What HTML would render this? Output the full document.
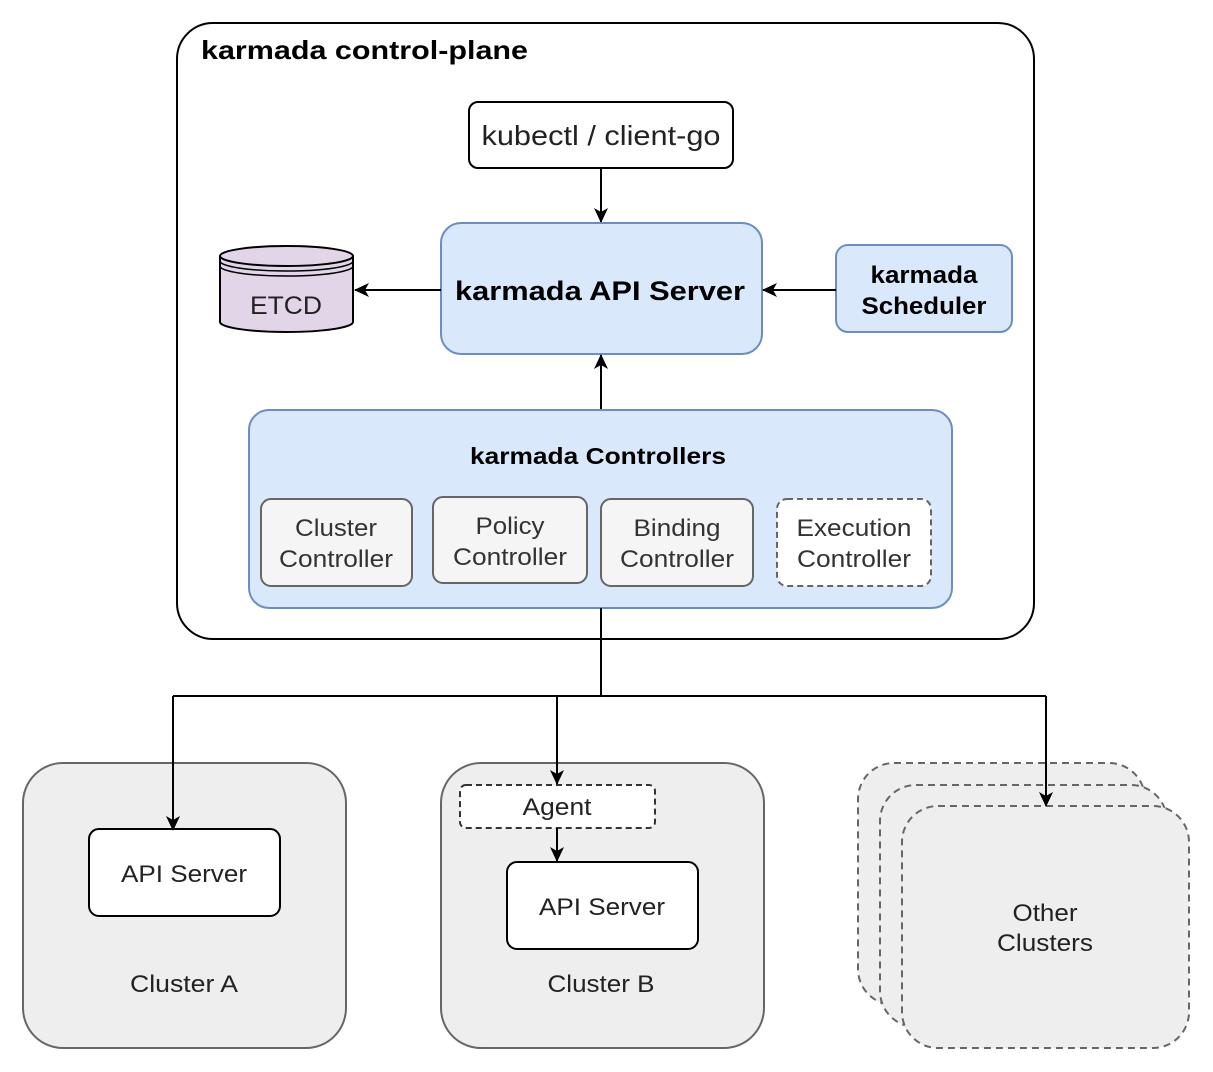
<!DOCTYPE html>
<html><head><meta charset="utf-8"><style>body{margin:0;background:#fff}svg{display:block}text{font-family:"Liberation Sans",sans-serif}</style></head><body>
<svg width="1213" height="1072" viewBox="0 0 1213 1072" xmlns="http://www.w3.org/2000/svg">
<defs><marker id="a" markerWidth="16" markerHeight="16" refX="14" refY="7" orient="auto" markerUnits="userSpaceOnUse" viewBox="0 0 16 14"><path d="M0,0 L15,7 L0,14 L4,7 z" fill="#000"/></marker></defs>
<rect x="177" y="23" width="857" height="616" rx="36" fill="#fff" stroke="#000" stroke-width="2"/>
<text x="201" y="59" font-size="26" font-weight="bold" textLength="327" lengthAdjust="spacingAndGlyphs">karmada control-plane</text>
<rect x="469" y="102" width="264" height="66" rx="9" fill="#fff" stroke="#000" stroke-width="2"/>
<text x="601" y="145" font-size="28" text-anchor="middle" fill="#222" textLength="239" lengthAdjust="spacingAndGlyphs">kubectl / client-go</text>
<line x1="601" y1="168" x2="601" y2="222" stroke="#000" stroke-width="2" marker-end="url(#a)"/>
<rect x="441" y="223" width="321" height="131" rx="20" fill="#dae8fc" stroke="#6c8ebf" stroke-width="2"/>
<text x="600" y="300" font-size="27" font-weight="bold" text-anchor="middle" textLength="290" lengthAdjust="spacingAndGlyphs">karmada API Server</text>
<path d="M220,256 L220,322 A66.5,10 0 0 0 353,322 L353,256" fill="#e1d5e7" stroke="#000" stroke-width="2"/>
<ellipse cx="286.5" cy="256" rx="66.5" ry="10" fill="#e1d5e7" stroke="#000" stroke-width="2"/>
<path d="M220,261 A66.5,10 0 0 0 353,261 M220,266 A66.5,10 0 0 0 353,266" fill="none" stroke="#000" stroke-width="1.5"/>
<text x="286" y="314" font-size="25" text-anchor="middle" fill="#222" textLength="72" lengthAdjust="spacingAndGlyphs">ETCD</text>
<line x1="441" y1="290" x2="355" y2="290" stroke="#000" stroke-width="2" marker-end="url(#a)"/>
<rect x="836" y="245" width="176" height="87" rx="12" fill="#dae8fc" stroke="#6c8ebf" stroke-width="2"/>
<text x="924" y="283" font-size="24" font-weight="bold" text-anchor="middle" textLength="107" lengthAdjust="spacingAndGlyphs">karmada</text>
<text x="924" y="314" font-size="24" font-weight="bold" text-anchor="middle" textLength="125" lengthAdjust="spacingAndGlyphs">Scheduler</text>
<line x1="836" y1="290" x2="763" y2="290" stroke="#000" stroke-width="2" marker-end="url(#a)"/>
<line x1="601" y1="410" x2="601" y2="355" stroke="#000" stroke-width="2" marker-end="url(#a)"/>
<rect x="249" y="410" width="703" height="198" rx="20" fill="#dae8fc" stroke="#6c8ebf" stroke-width="2"/>
<text x="598" y="464" font-size="23" font-weight="bold" text-anchor="middle" textLength="256" lengthAdjust="spacingAndGlyphs">karmada Controllers</text>
<g font-size="24" fill="#333" text-anchor="middle" lengthAdjust="spacingAndGlyphs">
<rect x="261" y="499" width="151" height="87" rx="10" fill="#f5f5f5" stroke="#666" stroke-width="2"/>
<text x="336" y="536" textLength="82" lengthAdjust="spacingAndGlyphs">Cluster</text><text x="336" y="567" textLength="114" lengthAdjust="spacingAndGlyphs">Controller</text>
<rect x="433" y="497" width="154" height="86" rx="10" fill="#f5f5f5" stroke="#666" stroke-width="2"/>
<text x="510" y="534" textLength="69" lengthAdjust="spacingAndGlyphs">Policy</text><text x="510" y="565" textLength="114" lengthAdjust="spacingAndGlyphs">Controller</text>
<rect x="601" y="499" width="152" height="87" rx="10" fill="#f5f5f5" stroke="#666" stroke-width="2"/>
<text x="677" y="536" textLength="87" lengthAdjust="spacingAndGlyphs">Binding</text><text x="677" y="567" textLength="114" lengthAdjust="spacingAndGlyphs">Controller</text>
<rect x="777" y="499" width="154" height="87" rx="10" fill="#fff" stroke="#666" stroke-width="2" stroke-dasharray="6,4"/>
<text x="854" y="536" textLength="115" lengthAdjust="spacingAndGlyphs">Execution</text><text x="854" y="567" textLength="114" lengthAdjust="spacingAndGlyphs">Controller</text>
</g>
<path d="M601,608 V696 M173,696 H1046" stroke="#000" stroke-width="2" fill="none"/>
<rect x="23" y="763" width="323" height="285" rx="40" fill="#eee" stroke="#666" stroke-width="2"/>
<rect x="89" y="829" width="191" height="87" rx="10" fill="#fff" stroke="#000" stroke-width="2"/>
<text x="184" y="882" font-size="24" text-anchor="middle" fill="#222" textLength="126" lengthAdjust="spacingAndGlyphs">API Server</text>
<text x="184" y="992" font-size="24" text-anchor="middle" fill="#222" textLength="108" lengthAdjust="spacingAndGlyphs">Cluster A</text>
<rect x="441" y="763" width="323" height="285" rx="40" fill="#eee" stroke="#666" stroke-width="2"/>
<rect x="460" y="785" width="195" height="43" rx="6" fill="#fff" stroke="#333" stroke-width="2" stroke-dasharray="6,4"/>
<text x="557" y="815" font-size="24" text-anchor="middle" fill="#222" textLength="69" lengthAdjust="spacingAndGlyphs">Agent</text>
<rect x="507" y="862" width="191" height="87" rx="10" fill="#fff" stroke="#000" stroke-width="2"/>
<text x="602" y="915" font-size="24" text-anchor="middle" fill="#222" textLength="126" lengthAdjust="spacingAndGlyphs">API Server</text>
<text x="601" y="992" font-size="24" text-anchor="middle" fill="#222" textLength="107" lengthAdjust="spacingAndGlyphs">Cluster B</text>
<line x1="557" y1="828" x2="557" y2="861" stroke="#000" stroke-width="2" marker-end="url(#a)"/>
<g fill="#eee" stroke="#666" stroke-width="2" stroke-dasharray="7,5">
<rect x="858" y="763" width="287" height="242" rx="36"/>
<rect x="880" y="785" width="287" height="242" rx="36"/>
<rect x="902" y="806" width="287" height="242" rx="36"/>
</g>
<text x="1045" y="921" font-size="24" text-anchor="middle" fill="#222" textLength="65" lengthAdjust="spacingAndGlyphs">Other</text>
<text x="1045" y="951" font-size="24" text-anchor="middle" fill="#222" textLength="96" lengthAdjust="spacingAndGlyphs">Clusters</text>
<line x1="173" y1="696" x2="173" y2="830" stroke="#000" stroke-width="2" marker-end="url(#a)"/>
<line x1="557" y1="696" x2="557" y2="784" stroke="#000" stroke-width="2" marker-end="url(#a)"/>
<line x1="1046" y1="696" x2="1046" y2="806" stroke="#000" stroke-width="2" marker-end="url(#a)"/>
</svg>
</body></html>
